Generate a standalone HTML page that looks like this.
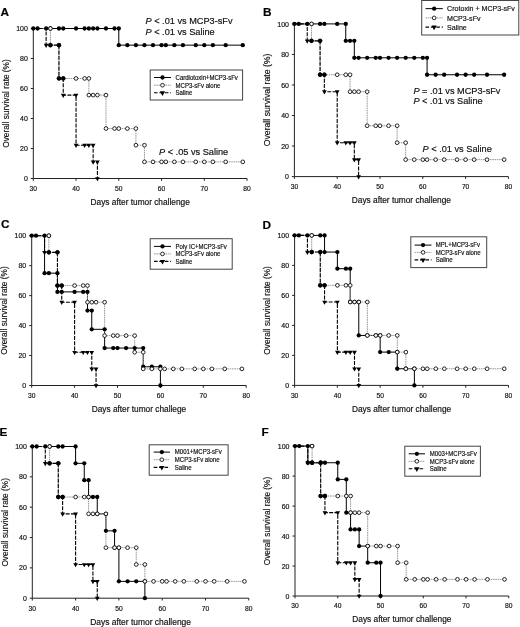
<!DOCTYPE html>
<html><head><meta charset="utf-8"><style>
html,body{margin:0;padding:0;background:#fff;}
svg{display:block;font-family:"Liberation Sans", sans-serif;}
#w{width:520px;height:627px;will-change:transform;}
text{stroke:#111;stroke-width:0.18px;}
</style></head><body><div id="w">
<svg width="520" height="627" viewBox="0 0 520 627">
<rect width="520" height="627" fill="#fff"/>
<path d="M33.3 28.5V178.5H247.05" fill="none" stroke="#222" stroke-width="1"/>
<path d="M30.8 178.5H33.3M30.8 148.5H33.3M30.8 118.5H33.3M30.8 88.5H33.3M30.8 58.5H33.3M30.8 28.5H33.3M33.3 178.5V180.8M76.05 178.5V180.8M118.8 178.5V180.8M161.55 178.5V180.8M204.3 178.5V180.8M247.05 178.5V180.8" stroke="#222" stroke-width="1"/>
<text transform="translate(27.8 181.1) scale(0.97 1)" text-anchor="end" font-size="7.2" fill="#111">0</text>
<text transform="translate(27.8 151.1) scale(0.97 1)" text-anchor="end" font-size="7.2" fill="#111">20</text>
<text transform="translate(27.8 121.1) scale(0.97 1)" text-anchor="end" font-size="7.2" fill="#111">40</text>
<text transform="translate(27.8 91.1) scale(0.97 1)" text-anchor="end" font-size="7.2" fill="#111">60</text>
<text transform="translate(27.8 61.1) scale(0.97 1)" text-anchor="end" font-size="7.2" fill="#111">80</text>
<text transform="translate(27.8 31.1) scale(0.97 1)" text-anchor="end" font-size="7.2" fill="#111">100</text>
<text transform="translate(33.3 190.8) scale(0.93 1)" text-anchor="middle" font-size="7.2" fill="#111">30</text>
<text transform="translate(76.05 190.8) scale(0.93 1)" text-anchor="middle" font-size="7.2" fill="#111">40</text>
<text transform="translate(118.8 190.8) scale(0.93 1)" text-anchor="middle" font-size="7.2" fill="#111">50</text>
<text transform="translate(161.55 190.8) scale(0.93 1)" text-anchor="middle" font-size="7.2" fill="#111">60</text>
<text transform="translate(204.3 190.8) scale(0.93 1)" text-anchor="middle" font-size="7.2" fill="#111">70</text>
<text transform="translate(247.05 190.8) scale(0.93 1)" text-anchor="middle" font-size="7.2" fill="#111">80</text>
<text x="140.18" y="204.9" text-anchor="middle" font-size="8.3" fill="#111">Days after tumor challenge</text>
<text transform="translate(8.7 103.5) rotate(-90)" text-anchor="middle" font-size="8.3" fill="#111">Overall survival rate (%)</text>
<text x="0.4" y="15.6" font-size="11.8" font-weight="bold" fill="#000">A</text>
<path d="M33.3 28.5L118.8 28.5L118.8 45.15L242.78 45.15" fill="none" stroke="#000" stroke-width="1.0"/>
<path d="M33.3 28.5L50.4 28.5L50.4 45.15L58.95 45.15L58.95 78.45L88.88 78.45L88.88 95.1L105.98 95.1L105.98 128.55L135.9 128.55L135.9 145.2L144.45 145.2L144.45 161.85L242.78 161.85" fill="none" stroke="#999" stroke-width="1" stroke-dasharray="1.6,0.7"/>
<path d="M33.3 28.5L46.12 28.5L46.12 45.15L58.95 45.15L58.95 78.45L63.23 78.45L63.23 95.1L76.05 95.1L76.05 145.2L93.15 145.2L93.15 161.85L97.42 161.85L97.42 178.5" fill="none" stroke="#000" stroke-width="1.1" stroke-dasharray="4.0,1.3"/>
<circle cx="33.3" cy="28.5" r="2.15" fill="#000"/>
<circle cx="37.57" cy="28.5" r="2.15" fill="#000"/>
<circle cx="46.12" cy="28.5" r="2.15" fill="#000"/>
<circle cx="50.4" cy="28.5" r="2.15" fill="#000"/>
<circle cx="58.95" cy="28.5" r="2.15" fill="#000"/>
<circle cx="63.23" cy="28.5" r="2.15" fill="#000"/>
<circle cx="76.05" cy="28.5" r="2.15" fill="#000"/>
<circle cx="84.6" cy="28.5" r="2.15" fill="#000"/>
<circle cx="88.88" cy="28.5" r="2.15" fill="#000"/>
<circle cx="93.15" cy="28.5" r="2.15" fill="#000"/>
<circle cx="97.42" cy="28.5" r="2.15" fill="#000"/>
<circle cx="105.98" cy="28.5" r="2.15" fill="#000"/>
<circle cx="114.53" cy="28.5" r="2.15" fill="#000"/>
<circle cx="118.8" cy="28.5" r="2.15" fill="#000"/>
<circle cx="118.8" cy="45.15" r="2.15" fill="#000"/>
<circle cx="127.35" cy="45.15" r="2.15" fill="#000"/>
<circle cx="135.9" cy="45.15" r="2.15" fill="#000"/>
<circle cx="144.45" cy="45.15" r="2.15" fill="#000"/>
<circle cx="153" cy="45.15" r="2.15" fill="#000"/>
<circle cx="161.55" cy="45.15" r="2.15" fill="#000"/>
<circle cx="165.82" cy="45.15" r="2.15" fill="#000"/>
<circle cx="174.38" cy="45.15" r="2.15" fill="#000"/>
<circle cx="182.93" cy="45.15" r="2.15" fill="#000"/>
<circle cx="195.75" cy="45.15" r="2.15" fill="#000"/>
<circle cx="204.3" cy="45.15" r="2.15" fill="#000"/>
<circle cx="212.85" cy="45.15" r="2.15" fill="#000"/>
<circle cx="225.68" cy="45.15" r="2.15" fill="#000"/>
<circle cx="242.78" cy="45.15" r="2.15" fill="#000"/>
<circle cx="50.4" cy="28.5" r="1.85" fill="#fff" stroke="#000" stroke-width="0.85"/>
<circle cx="50.4" cy="45.15" r="1.85" fill="#fff" stroke="#000" stroke-width="0.85"/>
<circle cx="58.95" cy="45.15" r="1.85" fill="#fff" stroke="#000" stroke-width="0.85"/>
<circle cx="58.95" cy="78.45" r="1.85" fill="#fff" stroke="#000" stroke-width="0.85"/>
<circle cx="63.23" cy="78.45" r="1.85" fill="#fff" stroke="#000" stroke-width="0.85"/>
<circle cx="76.05" cy="78.45" r="1.85" fill="#fff" stroke="#000" stroke-width="0.85"/>
<circle cx="84.6" cy="78.45" r="1.85" fill="#fff" stroke="#000" stroke-width="0.85"/>
<circle cx="88.88" cy="78.45" r="1.85" fill="#fff" stroke="#000" stroke-width="0.85"/>
<circle cx="88.88" cy="95.1" r="1.85" fill="#fff" stroke="#000" stroke-width="0.85"/>
<circle cx="93.15" cy="95.1" r="1.85" fill="#fff" stroke="#000" stroke-width="0.85"/>
<circle cx="97.42" cy="95.1" r="1.85" fill="#fff" stroke="#000" stroke-width="0.85"/>
<circle cx="105.98" cy="95.1" r="1.85" fill="#fff" stroke="#000" stroke-width="0.85"/>
<circle cx="105.98" cy="128.55" r="1.85" fill="#fff" stroke="#000" stroke-width="0.85"/>
<circle cx="114.53" cy="128.55" r="1.85" fill="#fff" stroke="#000" stroke-width="0.85"/>
<circle cx="118.8" cy="128.55" r="1.85" fill="#fff" stroke="#000" stroke-width="0.85"/>
<circle cx="127.35" cy="128.55" r="1.85" fill="#fff" stroke="#000" stroke-width="0.85"/>
<circle cx="135.9" cy="128.55" r="1.85" fill="#fff" stroke="#000" stroke-width="0.85"/>
<circle cx="135.9" cy="145.2" r="1.85" fill="#fff" stroke="#000" stroke-width="0.85"/>
<circle cx="144.45" cy="145.2" r="1.85" fill="#fff" stroke="#000" stroke-width="0.85"/>
<circle cx="144.45" cy="161.85" r="1.85" fill="#fff" stroke="#000" stroke-width="0.85"/>
<circle cx="153" cy="161.85" r="1.85" fill="#fff" stroke="#000" stroke-width="0.85"/>
<circle cx="161.55" cy="161.85" r="1.85" fill="#fff" stroke="#000" stroke-width="0.85"/>
<circle cx="165.82" cy="161.85" r="1.85" fill="#fff" stroke="#000" stroke-width="0.85"/>
<circle cx="174.38" cy="161.85" r="1.85" fill="#fff" stroke="#000" stroke-width="0.85"/>
<circle cx="182.93" cy="161.85" r="1.85" fill="#fff" stroke="#000" stroke-width="0.85"/>
<circle cx="195.75" cy="161.85" r="1.85" fill="#fff" stroke="#000" stroke-width="0.85"/>
<circle cx="204.3" cy="161.85" r="1.85" fill="#fff" stroke="#000" stroke-width="0.85"/>
<circle cx="212.85" cy="161.85" r="1.85" fill="#fff" stroke="#000" stroke-width="0.85"/>
<circle cx="225.68" cy="161.85" r="1.85" fill="#fff" stroke="#000" stroke-width="0.85"/>
<circle cx="242.78" cy="161.85" r="1.85" fill="#fff" stroke="#000" stroke-width="0.85"/>
<path d="M43.77 43.8L48.48 43.8L46.12 48Z" fill="#000"/>
<circle cx="50.4" cy="45.15" r="2.15" fill="#000"/>
<circle cx="58.95" cy="45.15" r="2.15" fill="#000"/>
<circle cx="58.95" cy="78.45" r="2.15" fill="#000"/>
<circle cx="63.23" cy="78.45" r="2.15" fill="#000"/>
<path d="M60.88 93.75L65.58 93.75L63.23 97.95Z" fill="#000"/>
<path d="M73.7 93.75L78.4 93.75L76.05 97.95Z" fill="#000"/>
<path d="M73.7 143.85L78.4 143.85L76.05 148.05Z" fill="#000"/>
<path d="M82.25 143.85L86.95 143.85L84.6 148.05Z" fill="#000"/>
<path d="M86.53 143.85L91.22 143.85L88.88 148.05Z" fill="#000"/>
<path d="M90.8 143.85L95.5 143.85L93.15 148.05Z" fill="#000"/>
<path d="M90.8 160.5L95.5 160.5L93.15 164.7Z" fill="#000"/>
<path d="M95.08 160.5L99.77 160.5L97.42 164.7Z" fill="#000"/>
<path d="M95.08 177.15L99.77 177.15L97.42 181.35Z" fill="#000"/>
<rect x="150.2" y="70" width="92.4" height="30" fill="#fff" stroke="#444" stroke-width="1"/>
<path d="M154 77.5H171" stroke="#000" stroke-width="1"/>
<circle cx="162.5" cy="77.5" r="2.15" fill="#000"/>
<path d="M154 85.2H171" stroke="#999" stroke-width="1" stroke-dasharray="1.6,0.7"/>
<circle cx="162.5" cy="85.2" r="1.85" fill="#fff" stroke="#000" stroke-width="0.85"/>
<path d="M154 92.7H171" stroke="#000" stroke-width="1.1" stroke-dasharray="3.6,1.8"/>
<path d="M159.87 91.19L165.13 91.19L162.5 95.89Z" fill="#000"/>
<text transform="translate(175.6 79.8) scale(0.94 1)" font-size="6.4" fill="#111">Cardiotoxin+MCP3-sFv</text>
<text transform="translate(175.6 87.5) scale(0.94 1)" font-size="6.4" fill="#111">MCP3-sFv alone</text>
<text transform="translate(175.6 95) scale(0.94 1)" font-size="6.4" fill="#111">Saline</text>
<text x="145.5" y="24.3" font-size="9.2" fill="#111"><tspan font-style="italic">P</tspan> < .01 vs MCP3-sFv</text>
<text x="145.5" y="35.3" font-size="9.2" fill="#111"><tspan font-style="italic">P</tspan> < .01 vs Saline</text>
<text x="159" y="154.5" font-size="9.2" fill="#111"><tspan font-style="italic">P</tspan> < .05 vs Saline</text>
<path d="M294.4 23.9V176.6H508.4" fill="none" stroke="#222" stroke-width="1"/>
<path d="M291.9 176.6H294.4M291.9 146.06H294.4M291.9 115.52H294.4M291.9 84.98H294.4M291.9 54.44H294.4M291.9 23.9H294.4M294.4 176.6V178.9M337.2 176.6V178.9M380 176.6V178.9M422.8 176.6V178.9M465.6 176.6V178.9M508.4 176.6V178.9" stroke="#222" stroke-width="1"/>
<text transform="translate(288.9 179.2) scale(0.97 1)" text-anchor="end" font-size="7.2" fill="#111">0</text>
<text transform="translate(288.9 148.66) scale(0.97 1)" text-anchor="end" font-size="7.2" fill="#111">20</text>
<text transform="translate(288.9 118.12) scale(0.97 1)" text-anchor="end" font-size="7.2" fill="#111">40</text>
<text transform="translate(288.9 87.58) scale(0.97 1)" text-anchor="end" font-size="7.2" fill="#111">60</text>
<text transform="translate(288.9 57.04) scale(0.97 1)" text-anchor="end" font-size="7.2" fill="#111">80</text>
<text transform="translate(288.9 26.5) scale(0.97 1)" text-anchor="end" font-size="7.2" fill="#111">100</text>
<text transform="translate(294.4 188.9) scale(0.93 1)" text-anchor="middle" font-size="7.2" fill="#111">30</text>
<text transform="translate(337.2 188.9) scale(0.93 1)" text-anchor="middle" font-size="7.2" fill="#111">40</text>
<text transform="translate(380 188.9) scale(0.93 1)" text-anchor="middle" font-size="7.2" fill="#111">50</text>
<text transform="translate(422.8 188.9) scale(0.93 1)" text-anchor="middle" font-size="7.2" fill="#111">60</text>
<text transform="translate(465.6 188.9) scale(0.93 1)" text-anchor="middle" font-size="7.2" fill="#111">70</text>
<text transform="translate(508.4 188.9) scale(0.93 1)" text-anchor="middle" font-size="7.2" fill="#111">80</text>
<text x="401.4" y="203" text-anchor="middle" font-size="8.3" fill="#111">Days after tumor challenge</text>
<text transform="translate(270.4 99.95) rotate(-90)" text-anchor="middle" font-size="8.7" fill="#111">Overall survival rate (%)</text>
<text x="263" y="15.9" font-size="11.8" font-weight="bold" fill="#000">B</text>
<path d="M294.4 23.9L345.76 23.9L345.76 40.85L354.32 40.85L354.32 57.8L427.08 57.8L427.08 74.75L504.12 74.75" fill="none" stroke="#000" stroke-width="1.0"/>
<path d="M294.4 23.9L311.52 23.9L311.52 40.85L320.08 40.85L320.08 74.75L350.04 74.75L350.04 91.7L367.16 91.7L367.16 125.75L397.12 125.75L397.12 142.7L405.68 142.7L405.68 159.65L504.12 159.65" fill="none" stroke="#999" stroke-width="1" stroke-dasharray="1.6,0.7"/>
<path d="M294.4 23.9L307.24 23.9L307.24 40.85L320.08 40.85L320.08 74.75L324.36 74.75L324.36 91.7L337.2 91.7L337.2 142.7L354.32 142.7L354.32 159.65L358.6 159.65L358.6 176.6" fill="none" stroke="#000" stroke-width="1.1" stroke-dasharray="4.0,1.3"/>
<circle cx="294.4" cy="23.9" r="2.15" fill="#000"/>
<circle cx="298.68" cy="23.9" r="2.15" fill="#000"/>
<circle cx="307.24" cy="23.9" r="2.15" fill="#000"/>
<circle cx="311.52" cy="23.9" r="2.15" fill="#000"/>
<circle cx="320.08" cy="23.9" r="2.15" fill="#000"/>
<circle cx="324.36" cy="23.9" r="2.15" fill="#000"/>
<circle cx="337.2" cy="23.9" r="2.15" fill="#000"/>
<circle cx="345.76" cy="23.9" r="2.15" fill="#000"/>
<circle cx="345.76" cy="40.85" r="2.15" fill="#000"/>
<circle cx="350.04" cy="40.85" r="2.15" fill="#000"/>
<circle cx="354.32" cy="40.85" r="2.15" fill="#000"/>
<circle cx="354.32" cy="57.8" r="2.15" fill="#000"/>
<circle cx="358.6" cy="57.8" r="2.15" fill="#000"/>
<circle cx="367.16" cy="57.8" r="2.15" fill="#000"/>
<circle cx="375.72" cy="57.8" r="2.15" fill="#000"/>
<circle cx="380" cy="57.8" r="2.15" fill="#000"/>
<circle cx="388.56" cy="57.8" r="2.15" fill="#000"/>
<circle cx="397.12" cy="57.8" r="2.15" fill="#000"/>
<circle cx="405.68" cy="57.8" r="2.15" fill="#000"/>
<circle cx="414.24" cy="57.8" r="2.15" fill="#000"/>
<circle cx="422.8" cy="57.8" r="2.15" fill="#000"/>
<circle cx="427.08" cy="57.8" r="2.15" fill="#000"/>
<circle cx="427.08" cy="74.75" r="2.15" fill="#000"/>
<circle cx="435.64" cy="74.75" r="2.15" fill="#000"/>
<circle cx="444.2" cy="74.75" r="2.15" fill="#000"/>
<circle cx="457.04" cy="74.75" r="2.15" fill="#000"/>
<circle cx="465.6" cy="74.75" r="2.15" fill="#000"/>
<circle cx="474.16" cy="74.75" r="2.15" fill="#000"/>
<circle cx="487" cy="74.75" r="2.15" fill="#000"/>
<circle cx="504.12" cy="74.75" r="2.15" fill="#000"/>
<circle cx="311.52" cy="23.9" r="1.85" fill="#fff" stroke="#000" stroke-width="0.85"/>
<circle cx="311.52" cy="40.85" r="1.85" fill="#fff" stroke="#000" stroke-width="0.85"/>
<circle cx="320.08" cy="40.85" r="1.85" fill="#fff" stroke="#000" stroke-width="0.85"/>
<circle cx="320.08" cy="74.75" r="1.85" fill="#fff" stroke="#000" stroke-width="0.85"/>
<circle cx="324.36" cy="74.75" r="1.85" fill="#fff" stroke="#000" stroke-width="0.85"/>
<circle cx="337.2" cy="74.75" r="1.85" fill="#fff" stroke="#000" stroke-width="0.85"/>
<circle cx="345.76" cy="74.75" r="1.85" fill="#fff" stroke="#000" stroke-width="0.85"/>
<circle cx="350.04" cy="74.75" r="1.85" fill="#fff" stroke="#000" stroke-width="0.85"/>
<circle cx="350.04" cy="91.7" r="1.85" fill="#fff" stroke="#000" stroke-width="0.85"/>
<circle cx="354.32" cy="91.7" r="1.85" fill="#fff" stroke="#000" stroke-width="0.85"/>
<circle cx="358.6" cy="91.7" r="1.85" fill="#fff" stroke="#000" stroke-width="0.85"/>
<circle cx="367.16" cy="91.7" r="1.85" fill="#fff" stroke="#000" stroke-width="0.85"/>
<circle cx="367.16" cy="125.75" r="1.85" fill="#fff" stroke="#000" stroke-width="0.85"/>
<circle cx="375.72" cy="125.75" r="1.85" fill="#fff" stroke="#000" stroke-width="0.85"/>
<circle cx="380" cy="125.75" r="1.85" fill="#fff" stroke="#000" stroke-width="0.85"/>
<circle cx="388.56" cy="125.75" r="1.85" fill="#fff" stroke="#000" stroke-width="0.85"/>
<circle cx="397.12" cy="125.75" r="1.85" fill="#fff" stroke="#000" stroke-width="0.85"/>
<circle cx="397.12" cy="142.7" r="1.85" fill="#fff" stroke="#000" stroke-width="0.85"/>
<circle cx="405.68" cy="142.7" r="1.85" fill="#fff" stroke="#000" stroke-width="0.85"/>
<circle cx="405.68" cy="159.65" r="1.85" fill="#fff" stroke="#000" stroke-width="0.85"/>
<circle cx="414.24" cy="159.65" r="1.85" fill="#fff" stroke="#000" stroke-width="0.85"/>
<circle cx="422.8" cy="159.65" r="1.85" fill="#fff" stroke="#000" stroke-width="0.85"/>
<circle cx="427.08" cy="159.65" r="1.85" fill="#fff" stroke="#000" stroke-width="0.85"/>
<circle cx="435.64" cy="159.65" r="1.85" fill="#fff" stroke="#000" stroke-width="0.85"/>
<circle cx="444.2" cy="159.65" r="1.85" fill="#fff" stroke="#000" stroke-width="0.85"/>
<circle cx="457.04" cy="159.65" r="1.85" fill="#fff" stroke="#000" stroke-width="0.85"/>
<circle cx="465.6" cy="159.65" r="1.85" fill="#fff" stroke="#000" stroke-width="0.85"/>
<circle cx="474.16" cy="159.65" r="1.85" fill="#fff" stroke="#000" stroke-width="0.85"/>
<circle cx="487" cy="159.65" r="1.85" fill="#fff" stroke="#000" stroke-width="0.85"/>
<circle cx="504.12" cy="159.65" r="1.85" fill="#fff" stroke="#000" stroke-width="0.85"/>
<path d="M304.89 39.5L309.59 39.5L307.24 43.7Z" fill="#000"/>
<circle cx="311.52" cy="40.85" r="2.15" fill="#000"/>
<circle cx="320.08" cy="40.85" r="2.15" fill="#000"/>
<circle cx="320.08" cy="74.75" r="2.15" fill="#000"/>
<circle cx="324.36" cy="74.75" r="2.15" fill="#000"/>
<path d="M322.01 90.35L326.71 90.35L324.36 94.55Z" fill="#000"/>
<path d="M334.85 90.35L339.55 90.35L337.2 94.55Z" fill="#000"/>
<path d="M334.85 141.35L339.55 141.35L337.2 145.55Z" fill="#000"/>
<path d="M343.41 141.35L348.11 141.35L345.76 145.55Z" fill="#000"/>
<path d="M347.69 141.35L352.39 141.35L350.04 145.55Z" fill="#000"/>
<path d="M351.97 141.35L356.67 141.35L354.32 145.55Z" fill="#000"/>
<path d="M351.97 158.3L356.67 158.3L354.32 162.5Z" fill="#000"/>
<path d="M356.25 158.3L360.95 158.3L358.6 162.5Z" fill="#000"/>
<path d="M356.25 175.25L360.95 175.25L358.6 179.45Z" fill="#000"/>
<rect x="421.7" y="0.5" width="97.1" height="34.5" fill="#fff" stroke="#444" stroke-width="1"/>
<path d="M425.5 8.65H442.8" stroke="#000" stroke-width="1"/>
<circle cx="434.15" cy="8.65" r="2.15" fill="#000"/>
<path d="M425.5 17.9H442.8" stroke="#999" stroke-width="1" stroke-dasharray="1.6,0.7"/>
<circle cx="434.15" cy="17.9" r="1.85" fill="#fff" stroke="#000" stroke-width="0.85"/>
<path d="M425.5 27.1H442.8" stroke="#000" stroke-width="1.1" stroke-dasharray="3.6,1.8"/>
<path d="M431.52 25.59L436.78 25.59L434.15 30.29Z" fill="#000"/>
<text transform="translate(447.1 11.25) scale(0.945 1)" font-size="7.5" fill="#111">Crotoxin + MCP3-sFv</text>
<text transform="translate(447.1 20.5) scale(0.945 1)" font-size="7.5" fill="#111">MCP3-sFv</text>
<text transform="translate(447.1 29.7) scale(0.945 1)" font-size="7.5" fill="#111">Saline</text>
<text x="413.4" y="93.5" font-size="9.2" fill="#111"><tspan font-style="italic">P</tspan> = .01 vs MCP3-sFv</text>
<text x="413.4" y="103.8" font-size="9.2" fill="#111"><tspan font-style="italic">P</tspan> < .01 vs Saline</text>
<text x="422.6" y="151.5" font-size="9.2" fill="#111"><tspan font-style="italic">P</tspan> < .01 vs Saline</text>
<path d="M31.7 235.7V385.5H246.2" fill="none" stroke="#222" stroke-width="1"/>
<path d="M29.2 385.5H31.7M29.2 355.54H31.7M29.2 325.58H31.7M29.2 295.62H31.7M29.2 265.66H31.7M29.2 235.7H31.7M31.7 385.5V387.8M74.6 385.5V387.8M117.5 385.5V387.8M160.4 385.5V387.8M203.3 385.5V387.8M246.2 385.5V387.8" stroke="#222" stroke-width="1"/>
<text transform="translate(26.2 388.1) scale(0.97 1)" text-anchor="end" font-size="7.2" fill="#111">0</text>
<text transform="translate(26.2 358.14) scale(0.97 1)" text-anchor="end" font-size="7.2" fill="#111">20</text>
<text transform="translate(26.2 328.18) scale(0.97 1)" text-anchor="end" font-size="7.2" fill="#111">40</text>
<text transform="translate(26.2 298.22) scale(0.97 1)" text-anchor="end" font-size="7.2" fill="#111">60</text>
<text transform="translate(26.2 268.26) scale(0.97 1)" text-anchor="end" font-size="7.2" fill="#111">80</text>
<text transform="translate(26.2 238.3) scale(0.97 1)" text-anchor="end" font-size="7.2" fill="#111">100</text>
<text transform="translate(31.7 397.8) scale(0.93 1)" text-anchor="middle" font-size="7.2" fill="#111">30</text>
<text transform="translate(74.6 397.8) scale(0.93 1)" text-anchor="middle" font-size="7.2" fill="#111">40</text>
<text transform="translate(117.5 397.8) scale(0.93 1)" text-anchor="middle" font-size="7.2" fill="#111">50</text>
<text transform="translate(160.4 397.8) scale(0.93 1)" text-anchor="middle" font-size="7.2" fill="#111">60</text>
<text transform="translate(203.3 397.8) scale(0.93 1)" text-anchor="middle" font-size="7.2" fill="#111">70</text>
<text transform="translate(246.2 397.8) scale(0.93 1)" text-anchor="middle" font-size="7.2" fill="#111">80</text>
<text x="138.95" y="411.9" text-anchor="middle" font-size="8.3" fill="#111">Days after tumor challege</text>
<text transform="translate(7.1 310.6) rotate(-90)" text-anchor="middle" font-size="8.3" fill="#111">Overall survival rate (%)</text>
<text x="1" y="228.3" font-size="11.8" font-weight="bold" fill="#000">C</text>
<path d="M31.7 235.7L44.57 235.7L44.57 273.15L57.44 273.15L57.44 291.88L87.47 291.88L87.47 310.6L91.76 310.6L91.76 329.32L104.63 329.32L104.63 348.05L143.24 348.05L143.24 366.77L160.4 366.77L160.4 385.5" fill="none" stroke="#000" stroke-width="1.0"/>
<path d="M31.7 235.7L48.86 235.7L48.86 252.33L57.44 252.33L57.44 285.58L87.47 285.58L87.47 302.21L104.63 302.21L104.63 335.62L134.66 335.62L134.66 352.24L143.24 352.24L143.24 368.87L241.91 368.87" fill="none" stroke="#999" stroke-width="1" stroke-dasharray="1.6,0.7"/>
<path d="M31.7 235.7L44.57 235.7L44.57 252.33L57.44 252.33L57.44 285.58L61.73 285.58L61.73 302.21L74.6 302.21L74.6 352.24L91.76 352.24L91.76 368.87L96.05 368.87L96.05 385.5" fill="none" stroke="#000" stroke-width="1.1" stroke-dasharray="4.0,1.3"/>
<circle cx="31.7" cy="235.7" r="2.15" fill="#000"/>
<circle cx="35.99" cy="235.7" r="2.15" fill="#000"/>
<circle cx="44.57" cy="235.7" r="2.15" fill="#000"/>
<circle cx="48.86" cy="235.7" r="2.15" fill="#000"/>
<circle cx="44.57" cy="273.15" r="2.15" fill="#000"/>
<circle cx="48.86" cy="273.15" r="2.15" fill="#000"/>
<circle cx="57.44" cy="273.15" r="2.15" fill="#000"/>
<circle cx="57.44" cy="291.88" r="2.15" fill="#000"/>
<circle cx="61.73" cy="291.88" r="2.15" fill="#000"/>
<circle cx="74.6" cy="291.88" r="2.15" fill="#000"/>
<circle cx="83.18" cy="291.88" r="2.15" fill="#000"/>
<circle cx="87.47" cy="291.88" r="2.15" fill="#000"/>
<circle cx="87.47" cy="310.6" r="2.15" fill="#000"/>
<circle cx="91.76" cy="310.6" r="2.15" fill="#000"/>
<circle cx="91.76" cy="329.32" r="2.15" fill="#000"/>
<circle cx="104.63" cy="329.32" r="2.15" fill="#000"/>
<circle cx="104.63" cy="348.05" r="2.15" fill="#000"/>
<circle cx="113.21" cy="348.05" r="2.15" fill="#000"/>
<circle cx="117.5" cy="348.05" r="2.15" fill="#000"/>
<circle cx="126.08" cy="348.05" r="2.15" fill="#000"/>
<circle cx="134.66" cy="348.05" r="2.15" fill="#000"/>
<circle cx="143.24" cy="348.05" r="2.15" fill="#000"/>
<circle cx="143.24" cy="366.77" r="2.15" fill="#000"/>
<circle cx="151.82" cy="366.77" r="2.15" fill="#000"/>
<circle cx="160.4" cy="366.77" r="2.15" fill="#000"/>
<circle cx="160.4" cy="385.5" r="2.15" fill="#000"/>
<circle cx="48.86" cy="235.7" r="1.85" fill="#fff" stroke="#000" stroke-width="0.85"/>
<circle cx="48.86" cy="252.33" r="1.85" fill="#fff" stroke="#000" stroke-width="0.85"/>
<circle cx="57.44" cy="252.33" r="1.85" fill="#fff" stroke="#000" stroke-width="0.85"/>
<circle cx="57.44" cy="285.58" r="1.85" fill="#fff" stroke="#000" stroke-width="0.85"/>
<circle cx="61.73" cy="285.58" r="1.85" fill="#fff" stroke="#000" stroke-width="0.85"/>
<circle cx="74.6" cy="285.58" r="1.85" fill="#fff" stroke="#000" stroke-width="0.85"/>
<circle cx="83.18" cy="285.58" r="1.85" fill="#fff" stroke="#000" stroke-width="0.85"/>
<circle cx="87.47" cy="285.58" r="1.85" fill="#fff" stroke="#000" stroke-width="0.85"/>
<circle cx="87.47" cy="302.21" r="1.85" fill="#fff" stroke="#000" stroke-width="0.85"/>
<circle cx="91.76" cy="302.21" r="1.85" fill="#fff" stroke="#000" stroke-width="0.85"/>
<circle cx="96.05" cy="302.21" r="1.85" fill="#fff" stroke="#000" stroke-width="0.85"/>
<circle cx="104.63" cy="302.21" r="1.85" fill="#fff" stroke="#000" stroke-width="0.85"/>
<circle cx="104.63" cy="335.62" r="1.85" fill="#fff" stroke="#000" stroke-width="0.85"/>
<circle cx="113.21" cy="335.62" r="1.85" fill="#fff" stroke="#000" stroke-width="0.85"/>
<circle cx="117.5" cy="335.62" r="1.85" fill="#fff" stroke="#000" stroke-width="0.85"/>
<circle cx="126.08" cy="335.62" r="1.85" fill="#fff" stroke="#000" stroke-width="0.85"/>
<circle cx="134.66" cy="335.62" r="1.85" fill="#fff" stroke="#000" stroke-width="0.85"/>
<circle cx="134.66" cy="352.24" r="1.85" fill="#fff" stroke="#000" stroke-width="0.85"/>
<circle cx="143.24" cy="352.24" r="1.85" fill="#fff" stroke="#000" stroke-width="0.85"/>
<circle cx="143.24" cy="368.87" r="1.85" fill="#fff" stroke="#000" stroke-width="0.85"/>
<circle cx="151.82" cy="368.87" r="1.85" fill="#fff" stroke="#000" stroke-width="0.85"/>
<circle cx="160.4" cy="368.87" r="1.85" fill="#fff" stroke="#000" stroke-width="0.85"/>
<circle cx="164.69" cy="368.87" r="1.85" fill="#fff" stroke="#000" stroke-width="0.85"/>
<circle cx="173.27" cy="368.87" r="1.85" fill="#fff" stroke="#000" stroke-width="0.85"/>
<circle cx="181.85" cy="368.87" r="1.85" fill="#fff" stroke="#000" stroke-width="0.85"/>
<circle cx="194.72" cy="368.87" r="1.85" fill="#fff" stroke="#000" stroke-width="0.85"/>
<circle cx="203.3" cy="368.87" r="1.85" fill="#fff" stroke="#000" stroke-width="0.85"/>
<circle cx="211.88" cy="368.87" r="1.85" fill="#fff" stroke="#000" stroke-width="0.85"/>
<circle cx="224.75" cy="368.87" r="1.85" fill="#fff" stroke="#000" stroke-width="0.85"/>
<circle cx="241.91" cy="368.87" r="1.85" fill="#fff" stroke="#000" stroke-width="0.85"/>
<path d="M42.22 250.98L46.92 250.98L44.57 255.18Z" fill="#000"/>
<circle cx="48.86" cy="252.33" r="2.15" fill="#000"/>
<circle cx="57.44" cy="252.33" r="2.15" fill="#000"/>
<circle cx="57.44" cy="285.58" r="2.15" fill="#000"/>
<circle cx="61.73" cy="285.58" r="2.15" fill="#000"/>
<path d="M59.38 300.86L64.08 300.86L61.73 305.06Z" fill="#000"/>
<path d="M72.25 300.86L76.95 300.86L74.6 305.06Z" fill="#000"/>
<path d="M72.25 350.89L76.95 350.89L74.6 355.09Z" fill="#000"/>
<path d="M80.83 350.89L85.53 350.89L83.18 355.09Z" fill="#000"/>
<path d="M85.12 350.89L89.82 350.89L87.47 355.09Z" fill="#000"/>
<path d="M89.41 350.89L94.11 350.89L91.76 355.09Z" fill="#000"/>
<path d="M89.41 367.52L94.11 367.52L91.76 371.72Z" fill="#000"/>
<path d="M93.7 367.52L98.4 367.52L96.05 371.72Z" fill="#000"/>
<path d="M93.7 384.15L98.4 384.15L96.05 388.35Z" fill="#000"/>
<rect x="150.2" y="238.7" width="82" height="30.5" fill="#fff" stroke="#444" stroke-width="1"/>
<path d="M154 246.4H171" stroke="#000" stroke-width="1"/>
<circle cx="162.5" cy="246.4" r="2.15" fill="#000"/>
<path d="M154 253.9H171" stroke="#999" stroke-width="1" stroke-dasharray="1.6,0.7"/>
<circle cx="162.5" cy="253.9" r="1.85" fill="#fff" stroke="#000" stroke-width="0.85"/>
<path d="M154 261.4H171" stroke="#000" stroke-width="1.1" stroke-dasharray="3.6,1.8"/>
<path d="M159.87 259.89L165.13 259.89L162.5 264.59Z" fill="#000"/>
<text transform="translate(175.6 248.7) scale(0.94 1)" font-size="6.4" fill="#111">Poly IC+MCP3-sFv</text>
<text transform="translate(175.6 256.2) scale(0.94 1)" font-size="6.4" fill="#111">MCP3-sFv alone</text>
<text transform="translate(175.6 263.7) scale(0.94 1)" font-size="6.4" fill="#111">Saline</text>
<path d="M294.6 235.4V385.4H508.5" fill="none" stroke="#222" stroke-width="1"/>
<path d="M292.1 385.4H294.6M292.1 355.4H294.6M292.1 325.4H294.6M292.1 295.4H294.6M292.1 265.4H294.6M292.1 235.4H294.6M294.6 385.4V387.7M337.38 385.4V387.7M380.16 385.4V387.7M422.94 385.4V387.7M465.72 385.4V387.7M508.5 385.4V387.7" stroke="#222" stroke-width="1"/>
<text transform="translate(289.1 388) scale(0.97 1)" text-anchor="end" font-size="7.2" fill="#111">0</text>
<text transform="translate(289.1 358) scale(0.97 1)" text-anchor="end" font-size="7.2" fill="#111">20</text>
<text transform="translate(289.1 328) scale(0.97 1)" text-anchor="end" font-size="7.2" fill="#111">40</text>
<text transform="translate(289.1 298) scale(0.97 1)" text-anchor="end" font-size="7.2" fill="#111">60</text>
<text transform="translate(289.1 268) scale(0.97 1)" text-anchor="end" font-size="7.2" fill="#111">80</text>
<text transform="translate(289.1 238) scale(0.97 1)" text-anchor="end" font-size="7.2" fill="#111">100</text>
<text transform="translate(294.6 397.7) scale(0.93 1)" text-anchor="middle" font-size="7.2" fill="#111">30</text>
<text transform="translate(337.38 397.7) scale(0.93 1)" text-anchor="middle" font-size="7.2" fill="#111">40</text>
<text transform="translate(380.16 397.7) scale(0.93 1)" text-anchor="middle" font-size="7.2" fill="#111">50</text>
<text transform="translate(422.94 397.7) scale(0.93 1)" text-anchor="middle" font-size="7.2" fill="#111">60</text>
<text transform="translate(465.72 397.7) scale(0.93 1)" text-anchor="middle" font-size="7.2" fill="#111">70</text>
<text transform="translate(508.5 397.7) scale(0.93 1)" text-anchor="middle" font-size="7.2" fill="#111">80</text>
<text x="401.55" y="411.8" text-anchor="middle" font-size="8.3" fill="#111">Days after tumor challenge</text>
<text transform="translate(270 310.4) rotate(-90)" text-anchor="middle" font-size="8.3" fill="#111">Overall survival rate (%)</text>
<text x="262.6" y="228.5" font-size="11.8" font-weight="bold" fill="#000">D</text>
<path d="M294.6 235.4L324.55 235.4L324.55 252.05L337.38 252.05L337.38 268.7L350.21 268.7L350.21 302L358.77 302L358.77 335.45L380.16 335.45L380.16 352.1L397.27 352.1L397.27 368.75L414.38 368.75L414.38 385.4" fill="none" stroke="#000" stroke-width="1.0"/>
<path d="M294.6 235.4L311.71 235.4L311.71 252.05L320.27 252.05L320.27 285.35L350.21 285.35L350.21 302L367.33 302L367.33 335.45L397.27 335.45L397.27 352.1L405.83 352.1L405.83 368.75L504.22 368.75" fill="none" stroke="#999" stroke-width="1" stroke-dasharray="1.6,0.7"/>
<path d="M294.6 235.4L307.43 235.4L307.43 252.05L320.27 252.05L320.27 285.35L324.55 285.35L324.55 302L337.38 302L337.38 352.1L354.49 352.1L354.49 368.75L358.77 368.75L358.77 385.4" fill="none" stroke="#000" stroke-width="1.1" stroke-dasharray="4.0,1.3"/>
<circle cx="294.6" cy="235.4" r="2.15" fill="#000"/>
<circle cx="298.88" cy="235.4" r="2.15" fill="#000"/>
<circle cx="307.43" cy="235.4" r="2.15" fill="#000"/>
<circle cx="311.71" cy="235.4" r="2.15" fill="#000"/>
<circle cx="320.27" cy="235.4" r="2.15" fill="#000"/>
<circle cx="324.55" cy="235.4" r="2.15" fill="#000"/>
<circle cx="324.55" cy="252.05" r="2.15" fill="#000"/>
<circle cx="337.38" cy="252.05" r="2.15" fill="#000"/>
<circle cx="337.38" cy="268.7" r="2.15" fill="#000"/>
<circle cx="345.94" cy="268.7" r="2.15" fill="#000"/>
<circle cx="350.21" cy="268.7" r="2.15" fill="#000"/>
<circle cx="350.21" cy="302" r="2.15" fill="#000"/>
<circle cx="354.49" cy="302" r="2.15" fill="#000"/>
<circle cx="358.77" cy="302" r="2.15" fill="#000"/>
<circle cx="358.77" cy="335.45" r="2.15" fill="#000"/>
<circle cx="367.33" cy="335.45" r="2.15" fill="#000"/>
<circle cx="375.88" cy="335.45" r="2.15" fill="#000"/>
<circle cx="380.16" cy="335.45" r="2.15" fill="#000"/>
<circle cx="380.16" cy="352.1" r="2.15" fill="#000"/>
<circle cx="388.72" cy="352.1" r="2.15" fill="#000"/>
<circle cx="397.27" cy="352.1" r="2.15" fill="#000"/>
<circle cx="397.27" cy="368.75" r="2.15" fill="#000"/>
<circle cx="405.83" cy="368.75" r="2.15" fill="#000"/>
<circle cx="414.38" cy="368.75" r="2.15" fill="#000"/>
<circle cx="414.38" cy="385.4" r="2.15" fill="#000"/>
<circle cx="311.71" cy="235.4" r="1.85" fill="#fff" stroke="#000" stroke-width="0.85"/>
<circle cx="311.71" cy="252.05" r="1.85" fill="#fff" stroke="#000" stroke-width="0.85"/>
<circle cx="320.27" cy="252.05" r="1.85" fill="#fff" stroke="#000" stroke-width="0.85"/>
<circle cx="320.27" cy="285.35" r="1.85" fill="#fff" stroke="#000" stroke-width="0.85"/>
<circle cx="324.55" cy="285.35" r="1.85" fill="#fff" stroke="#000" stroke-width="0.85"/>
<circle cx="337.38" cy="285.35" r="1.85" fill="#fff" stroke="#000" stroke-width="0.85"/>
<circle cx="345.94" cy="285.35" r="1.85" fill="#fff" stroke="#000" stroke-width="0.85"/>
<circle cx="350.21" cy="285.35" r="1.85" fill="#fff" stroke="#000" stroke-width="0.85"/>
<circle cx="350.21" cy="302" r="1.85" fill="#fff" stroke="#000" stroke-width="0.85"/>
<circle cx="354.49" cy="302" r="1.85" fill="#fff" stroke="#000" stroke-width="0.85"/>
<circle cx="358.77" cy="302" r="1.85" fill="#fff" stroke="#000" stroke-width="0.85"/>
<circle cx="367.33" cy="302" r="1.85" fill="#fff" stroke="#000" stroke-width="0.85"/>
<circle cx="367.33" cy="335.45" r="1.85" fill="#fff" stroke="#000" stroke-width="0.85"/>
<circle cx="375.88" cy="335.45" r="1.85" fill="#fff" stroke="#000" stroke-width="0.85"/>
<circle cx="380.16" cy="335.45" r="1.85" fill="#fff" stroke="#000" stroke-width="0.85"/>
<circle cx="388.72" cy="335.45" r="1.85" fill="#fff" stroke="#000" stroke-width="0.85"/>
<circle cx="397.27" cy="335.45" r="1.85" fill="#fff" stroke="#000" stroke-width="0.85"/>
<circle cx="397.27" cy="352.1" r="1.85" fill="#fff" stroke="#000" stroke-width="0.85"/>
<circle cx="405.83" cy="352.1" r="1.85" fill="#fff" stroke="#000" stroke-width="0.85"/>
<circle cx="405.83" cy="368.75" r="1.85" fill="#fff" stroke="#000" stroke-width="0.85"/>
<circle cx="414.38" cy="368.75" r="1.85" fill="#fff" stroke="#000" stroke-width="0.85"/>
<circle cx="422.94" cy="368.75" r="1.85" fill="#fff" stroke="#000" stroke-width="0.85"/>
<circle cx="427.22" cy="368.75" r="1.85" fill="#fff" stroke="#000" stroke-width="0.85"/>
<circle cx="435.77" cy="368.75" r="1.85" fill="#fff" stroke="#000" stroke-width="0.85"/>
<circle cx="444.33" cy="368.75" r="1.85" fill="#fff" stroke="#000" stroke-width="0.85"/>
<circle cx="457.16" cy="368.75" r="1.85" fill="#fff" stroke="#000" stroke-width="0.85"/>
<circle cx="465.72" cy="368.75" r="1.85" fill="#fff" stroke="#000" stroke-width="0.85"/>
<circle cx="474.28" cy="368.75" r="1.85" fill="#fff" stroke="#000" stroke-width="0.85"/>
<circle cx="487.11" cy="368.75" r="1.85" fill="#fff" stroke="#000" stroke-width="0.85"/>
<circle cx="504.22" cy="368.75" r="1.85" fill="#fff" stroke="#000" stroke-width="0.85"/>
<path d="M305.08 250.7L309.78 250.7L307.43 254.9Z" fill="#000"/>
<circle cx="311.71" cy="252.05" r="2.15" fill="#000"/>
<circle cx="320.27" cy="252.05" r="2.15" fill="#000"/>
<circle cx="320.27" cy="285.35" r="2.15" fill="#000"/>
<circle cx="324.55" cy="285.35" r="2.15" fill="#000"/>
<path d="M322.2 300.65L326.9 300.65L324.55 304.85Z" fill="#000"/>
<path d="M335.03 300.65L339.73 300.65L337.38 304.85Z" fill="#000"/>
<path d="M335.03 350.75L339.73 350.75L337.38 354.95Z" fill="#000"/>
<path d="M343.59 350.75L348.29 350.75L345.94 354.95Z" fill="#000"/>
<path d="M347.86 350.75L352.56 350.75L350.21 354.95Z" fill="#000"/>
<path d="M352.14 350.75L356.84 350.75L354.49 354.95Z" fill="#000"/>
<path d="M352.14 367.4L356.84 367.4L354.49 371.6Z" fill="#000"/>
<path d="M356.42 367.4L361.12 367.4L358.77 371.6Z" fill="#000"/>
<path d="M356.42 384.05L361.12 384.05L358.77 388.25Z" fill="#000"/>
<rect x="410.8" y="236.8" width="75.9" height="30.8" fill="#fff" stroke="#444" stroke-width="1"/>
<path d="M414.6 245.1H431.5" stroke="#000" stroke-width="1"/>
<circle cx="423.05" cy="245.1" r="2.15" fill="#000"/>
<path d="M414.6 252.4H431.5" stroke="#999" stroke-width="1" stroke-dasharray="1.6,0.7"/>
<circle cx="423.05" cy="252.4" r="1.85" fill="#fff" stroke="#000" stroke-width="0.85"/>
<path d="M414.6 259.9H431.5" stroke="#000" stroke-width="1.1" stroke-dasharray="3.6,1.8"/>
<path d="M420.42 258.39L425.68 258.39L423.05 263.09Z" fill="#000"/>
<text transform="translate(435.8 247.4) scale(0.94 1)" font-size="6.4" fill="#111">MPL+MCP3-sFv</text>
<text transform="translate(435.8 254.7) scale(0.94 1)" font-size="6.4" fill="#111">MCP3-sFv alone</text>
<text transform="translate(435.8 262.2) scale(0.94 1)" font-size="6.4" fill="#111">Saline</text>
<path d="M32.3 446.5V598.2H248.8" fill="none" stroke="#222" stroke-width="1"/>
<path d="M29.8 598.2H32.3M29.8 567.86H32.3M29.8 537.52H32.3M29.8 507.18H32.3M29.8 476.84H32.3M29.8 446.5H32.3M32.3 598.2V600.5M75.6 598.2V600.5M118.9 598.2V600.5M162.2 598.2V600.5M205.5 598.2V600.5M248.8 598.2V600.5" stroke="#222" stroke-width="1"/>
<text transform="translate(26.8 600.8) scale(0.97 1)" text-anchor="end" font-size="7.2" fill="#111">0</text>
<text transform="translate(26.8 570.46) scale(0.97 1)" text-anchor="end" font-size="7.2" fill="#111">20</text>
<text transform="translate(26.8 540.12) scale(0.97 1)" text-anchor="end" font-size="7.2" fill="#111">40</text>
<text transform="translate(26.8 509.78) scale(0.97 1)" text-anchor="end" font-size="7.2" fill="#111">60</text>
<text transform="translate(26.8 479.44) scale(0.97 1)" text-anchor="end" font-size="7.2" fill="#111">80</text>
<text transform="translate(26.8 449.1) scale(0.97 1)" text-anchor="end" font-size="7.2" fill="#111">100</text>
<text transform="translate(32.3 610.5) scale(0.93 1)" text-anchor="middle" font-size="7.2" fill="#111">30</text>
<text transform="translate(75.6 610.5) scale(0.93 1)" text-anchor="middle" font-size="7.2" fill="#111">40</text>
<text transform="translate(118.9 610.5) scale(0.93 1)" text-anchor="middle" font-size="7.2" fill="#111">50</text>
<text transform="translate(162.2 610.5) scale(0.93 1)" text-anchor="middle" font-size="7.2" fill="#111">60</text>
<text transform="translate(205.5 610.5) scale(0.93 1)" text-anchor="middle" font-size="7.2" fill="#111">70</text>
<text transform="translate(248.8 610.5) scale(0.93 1)" text-anchor="middle" font-size="7.2" fill="#111">80</text>
<text x="140.55" y="624.6" text-anchor="middle" font-size="8.45" fill="#111">Days after tumor challenge</text>
<text transform="translate(7.7 522.35) rotate(-90)" text-anchor="middle" font-size="8.3" fill="#111">Overall survival rate (%)</text>
<text x="-0.5" y="435.9" font-size="11.8" font-weight="bold" fill="#000">E</text>
<path d="M32.3 446.5L75.6 446.5L75.6 463.34L84.26 463.34L84.26 480.18L88.59 480.18L88.59 497.02L97.25 497.02L97.25 513.85L105.91 513.85L105.91 530.85L114.57 530.85L114.57 547.68L118.9 547.68L118.9 581.36L144.88 581.36L144.88 598.2" fill="none" stroke="#000" stroke-width="1.0"/>
<path d="M32.3 446.5L49.62 446.5L49.62 463.34L58.28 463.34L58.28 497.02L88.59 497.02L88.59 513.85L105.91 513.85L105.91 547.68L136.22 547.68L136.22 564.52L144.88 564.52L144.88 581.36L244.47 581.36" fill="none" stroke="#999" stroke-width="1" stroke-dasharray="1.6,0.7"/>
<path d="M32.3 446.5L45.29 446.5L45.29 463.34L58.28 463.34L58.28 497.02L62.61 497.02L62.61 513.85L75.6 513.85L75.6 564.52L92.92 564.52L92.92 581.36L97.25 581.36L97.25 598.2" fill="none" stroke="#000" stroke-width="1.1" stroke-dasharray="4.0,1.3"/>
<circle cx="32.3" cy="446.5" r="2.15" fill="#000"/>
<circle cx="36.63" cy="446.5" r="2.15" fill="#000"/>
<circle cx="45.29" cy="446.5" r="2.15" fill="#000"/>
<circle cx="49.62" cy="446.5" r="2.15" fill="#000"/>
<circle cx="58.28" cy="446.5" r="2.15" fill="#000"/>
<circle cx="62.61" cy="446.5" r="2.15" fill="#000"/>
<circle cx="75.6" cy="446.5" r="2.15" fill="#000"/>
<circle cx="75.6" cy="463.34" r="2.15" fill="#000"/>
<circle cx="84.26" cy="463.34" r="2.15" fill="#000"/>
<circle cx="84.26" cy="480.18" r="2.15" fill="#000"/>
<circle cx="88.59" cy="480.18" r="2.15" fill="#000"/>
<circle cx="88.59" cy="497.02" r="2.15" fill="#000"/>
<circle cx="92.92" cy="497.02" r="2.15" fill="#000"/>
<circle cx="97.25" cy="497.02" r="2.15" fill="#000"/>
<circle cx="97.25" cy="513.85" r="2.15" fill="#000"/>
<circle cx="105.91" cy="513.85" r="2.15" fill="#000"/>
<circle cx="105.91" cy="530.85" r="2.15" fill="#000"/>
<circle cx="114.57" cy="530.85" r="2.15" fill="#000"/>
<circle cx="114.57" cy="547.68" r="2.15" fill="#000"/>
<circle cx="118.9" cy="547.68" r="2.15" fill="#000"/>
<circle cx="118.9" cy="581.36" r="2.15" fill="#000"/>
<circle cx="127.56" cy="581.36" r="2.15" fill="#000"/>
<circle cx="136.22" cy="581.36" r="2.15" fill="#000"/>
<circle cx="144.88" cy="581.36" r="2.15" fill="#000"/>
<circle cx="144.88" cy="598.2" r="2.15" fill="#000"/>
<circle cx="49.62" cy="446.5" r="1.85" fill="#fff" stroke="#000" stroke-width="0.85"/>
<circle cx="49.62" cy="463.34" r="1.85" fill="#fff" stroke="#000" stroke-width="0.85"/>
<circle cx="58.28" cy="463.34" r="1.85" fill="#fff" stroke="#000" stroke-width="0.85"/>
<circle cx="58.28" cy="497.02" r="1.85" fill="#fff" stroke="#000" stroke-width="0.85"/>
<circle cx="62.61" cy="497.02" r="1.85" fill="#fff" stroke="#000" stroke-width="0.85"/>
<circle cx="75.6" cy="497.02" r="1.85" fill="#fff" stroke="#000" stroke-width="0.85"/>
<circle cx="84.26" cy="497.02" r="1.85" fill="#fff" stroke="#000" stroke-width="0.85"/>
<circle cx="88.59" cy="497.02" r="1.85" fill="#fff" stroke="#000" stroke-width="0.85"/>
<circle cx="88.59" cy="513.85" r="1.85" fill="#fff" stroke="#000" stroke-width="0.85"/>
<circle cx="92.92" cy="513.85" r="1.85" fill="#fff" stroke="#000" stroke-width="0.85"/>
<circle cx="97.25" cy="513.85" r="1.85" fill="#fff" stroke="#000" stroke-width="0.85"/>
<circle cx="105.91" cy="513.85" r="1.85" fill="#fff" stroke="#000" stroke-width="0.85"/>
<circle cx="105.91" cy="547.68" r="1.85" fill="#fff" stroke="#000" stroke-width="0.85"/>
<circle cx="114.57" cy="547.68" r="1.85" fill="#fff" stroke="#000" stroke-width="0.85"/>
<circle cx="118.9" cy="547.68" r="1.85" fill="#fff" stroke="#000" stroke-width="0.85"/>
<circle cx="127.56" cy="547.68" r="1.85" fill="#fff" stroke="#000" stroke-width="0.85"/>
<circle cx="136.22" cy="547.68" r="1.85" fill="#fff" stroke="#000" stroke-width="0.85"/>
<circle cx="136.22" cy="564.52" r="1.85" fill="#fff" stroke="#000" stroke-width="0.85"/>
<circle cx="144.88" cy="564.52" r="1.85" fill="#fff" stroke="#000" stroke-width="0.85"/>
<circle cx="144.88" cy="581.36" r="1.85" fill="#fff" stroke="#000" stroke-width="0.85"/>
<circle cx="153.54" cy="581.36" r="1.85" fill="#fff" stroke="#000" stroke-width="0.85"/>
<circle cx="162.2" cy="581.36" r="1.85" fill="#fff" stroke="#000" stroke-width="0.85"/>
<circle cx="166.53" cy="581.36" r="1.85" fill="#fff" stroke="#000" stroke-width="0.85"/>
<circle cx="175.19" cy="581.36" r="1.85" fill="#fff" stroke="#000" stroke-width="0.85"/>
<circle cx="183.85" cy="581.36" r="1.85" fill="#fff" stroke="#000" stroke-width="0.85"/>
<circle cx="196.84" cy="581.36" r="1.85" fill="#fff" stroke="#000" stroke-width="0.85"/>
<circle cx="205.5" cy="581.36" r="1.85" fill="#fff" stroke="#000" stroke-width="0.85"/>
<circle cx="214.16" cy="581.36" r="1.85" fill="#fff" stroke="#000" stroke-width="0.85"/>
<circle cx="227.15" cy="581.36" r="1.85" fill="#fff" stroke="#000" stroke-width="0.85"/>
<circle cx="244.47" cy="581.36" r="1.85" fill="#fff" stroke="#000" stroke-width="0.85"/>
<path d="M42.94 461.99L47.64 461.99L45.29 466.19Z" fill="#000"/>
<circle cx="49.62" cy="463.34" r="2.15" fill="#000"/>
<circle cx="58.28" cy="463.34" r="2.15" fill="#000"/>
<circle cx="58.28" cy="497.02" r="2.15" fill="#000"/>
<circle cx="62.61" cy="497.02" r="2.15" fill="#000"/>
<path d="M60.26 512.5L64.96 512.5L62.61 516.7Z" fill="#000"/>
<path d="M73.25 512.5L77.95 512.5L75.6 516.7Z" fill="#000"/>
<path d="M73.25 563.17L77.95 563.17L75.6 567.37Z" fill="#000"/>
<path d="M81.91 563.17L86.61 563.17L84.26 567.37Z" fill="#000"/>
<path d="M86.24 563.17L90.94 563.17L88.59 567.37Z" fill="#000"/>
<path d="M90.57 563.17L95.27 563.17L92.92 567.37Z" fill="#000"/>
<path d="M90.57 580.01L95.27 580.01L92.92 584.21Z" fill="#000"/>
<path d="M94.9 580.01L99.6 580.01L97.25 584.21Z" fill="#000"/>
<path d="M94.9 596.85L99.6 596.85L97.25 601.05Z" fill="#000"/>
<rect x="149.2" y="444.8" width="78.9" height="30.4" fill="#fff" stroke="#444" stroke-width="1"/>
<path d="M153.7 452.1H170" stroke="#000" stroke-width="1"/>
<circle cx="161.85" cy="452.1" r="2.15" fill="#000"/>
<path d="M153.7 459.7H170" stroke="#999" stroke-width="1" stroke-dasharray="1.6,0.7"/>
<circle cx="161.85" cy="459.7" r="1.85" fill="#fff" stroke="#000" stroke-width="0.85"/>
<path d="M153.7 467.4H170" stroke="#000" stroke-width="1.1" stroke-dasharray="3.6,1.8"/>
<path d="M159.22 465.89L164.48 465.89L161.85 470.59Z" fill="#000"/>
<text transform="translate(174.8 454.4) scale(0.94 1)" font-size="6.4" fill="#111">M001+MCP3-sFv</text>
<text transform="translate(174.8 462) scale(0.94 1)" font-size="6.4" fill="#111">MCP3-sFv alone</text>
<text transform="translate(174.8 469.7) scale(0.94 1)" font-size="6.4" fill="#111">Saline</text>
<path d="M295 446.1V596H508.8" fill="none" stroke="#222" stroke-width="1"/>
<path d="M292.5 596H295M292.5 566.02H295M292.5 536.04H295M292.5 506.06H295M292.5 476.08H295M292.5 446.1H295M295 596V598.3M337.76 596V598.3M380.52 596V598.3M423.28 596V598.3M466.04 596V598.3M508.8 596V598.3" stroke="#222" stroke-width="1"/>
<text transform="translate(289.5 598.6) scale(0.97 1)" text-anchor="end" font-size="7.2" fill="#111">0</text>
<text transform="translate(289.5 568.62) scale(0.97 1)" text-anchor="end" font-size="7.2" fill="#111">20</text>
<text transform="translate(289.5 538.64) scale(0.97 1)" text-anchor="end" font-size="7.2" fill="#111">40</text>
<text transform="translate(289.5 508.66) scale(0.97 1)" text-anchor="end" font-size="7.2" fill="#111">60</text>
<text transform="translate(289.5 478.68) scale(0.97 1)" text-anchor="end" font-size="7.2" fill="#111">80</text>
<text transform="translate(289.5 448.7) scale(0.97 1)" text-anchor="end" font-size="7.2" fill="#111">100</text>
<text transform="translate(295 608.3) scale(0.93 1)" text-anchor="middle" font-size="7.2" fill="#111">30</text>
<text transform="translate(337.76 608.3) scale(0.93 1)" text-anchor="middle" font-size="7.2" fill="#111">40</text>
<text transform="translate(380.52 608.3) scale(0.93 1)" text-anchor="middle" font-size="7.2" fill="#111">50</text>
<text transform="translate(423.28 608.3) scale(0.93 1)" text-anchor="middle" font-size="7.2" fill="#111">60</text>
<text transform="translate(466.04 608.3) scale(0.93 1)" text-anchor="middle" font-size="7.2" fill="#111">70</text>
<text transform="translate(508.8 608.3) scale(0.93 1)" text-anchor="middle" font-size="7.2" fill="#111">80</text>
<text x="401.9" y="622.4" text-anchor="middle" font-size="8.3" fill="#111">Days after tumor challenge</text>
<text transform="translate(270.4 521.05) rotate(-90)" text-anchor="middle" font-size="8.3" fill="#111">Overall survival rate (%)</text>
<text x="261.6" y="435.9" font-size="11.8" font-weight="bold" fill="#000">F</text>
<path d="M295 446.1L307.83 446.1L307.83 462.74L337.76 462.74L337.76 479.38L346.31 479.38L346.31 512.66L350.59 512.66L350.59 529.44L359.14 529.44L359.14 546.08L367.69 546.08L367.69 562.72L380.52 562.72L380.52 596" fill="none" stroke="#000" stroke-width="1.0"/>
<path d="M295 446.1L312.1 446.1L312.1 462.74L320.66 462.74L320.66 496.02L350.59 496.02L350.59 512.66L367.69 512.66L367.69 546.08L397.62 546.08L397.62 562.72L406.18 562.72L406.18 579.36L504.52 579.36" fill="none" stroke="#999" stroke-width="1" stroke-dasharray="1.6,0.7"/>
<path d="M295 446.1L307.83 446.1L307.83 462.74L320.66 462.74L320.66 496.02L324.93 496.02L324.93 512.66L337.76 512.66L337.76 562.72L354.86 562.72L354.86 579.36L359.14 579.36L359.14 596" fill="none" stroke="#000" stroke-width="1.1" stroke-dasharray="4.0,1.3"/>
<circle cx="295" cy="446.1" r="2.15" fill="#000"/>
<circle cx="299.28" cy="446.1" r="2.15" fill="#000"/>
<circle cx="307.83" cy="446.1" r="2.15" fill="#000"/>
<circle cx="312.1" cy="446.1" r="2.15" fill="#000"/>
<circle cx="307.83" cy="462.74" r="2.15" fill="#000"/>
<circle cx="312.1" cy="462.74" r="2.15" fill="#000"/>
<circle cx="320.66" cy="462.74" r="2.15" fill="#000"/>
<circle cx="324.93" cy="462.74" r="2.15" fill="#000"/>
<circle cx="337.76" cy="462.74" r="2.15" fill="#000"/>
<circle cx="337.76" cy="479.38" r="2.15" fill="#000"/>
<circle cx="346.31" cy="479.38" r="2.15" fill="#000"/>
<circle cx="346.31" cy="512.66" r="2.15" fill="#000"/>
<circle cx="350.59" cy="512.66" r="2.15" fill="#000"/>
<circle cx="350.59" cy="529.44" r="2.15" fill="#000"/>
<circle cx="354.86" cy="529.44" r="2.15" fill="#000"/>
<circle cx="359.14" cy="529.44" r="2.15" fill="#000"/>
<circle cx="359.14" cy="546.08" r="2.15" fill="#000"/>
<circle cx="367.69" cy="546.08" r="2.15" fill="#000"/>
<circle cx="367.69" cy="562.72" r="2.15" fill="#000"/>
<circle cx="376.24" cy="562.72" r="2.15" fill="#000"/>
<circle cx="380.52" cy="562.72" r="2.15" fill="#000"/>
<circle cx="380.52" cy="596" r="2.15" fill="#000"/>
<circle cx="312.1" cy="446.1" r="1.85" fill="#fff" stroke="#000" stroke-width="0.85"/>
<circle cx="312.1" cy="462.74" r="1.85" fill="#fff" stroke="#000" stroke-width="0.85"/>
<circle cx="320.66" cy="462.74" r="1.85" fill="#fff" stroke="#000" stroke-width="0.85"/>
<circle cx="320.66" cy="496.02" r="1.85" fill="#fff" stroke="#000" stroke-width="0.85"/>
<circle cx="324.93" cy="496.02" r="1.85" fill="#fff" stroke="#000" stroke-width="0.85"/>
<circle cx="337.76" cy="496.02" r="1.85" fill="#fff" stroke="#000" stroke-width="0.85"/>
<circle cx="346.31" cy="496.02" r="1.85" fill="#fff" stroke="#000" stroke-width="0.85"/>
<circle cx="350.59" cy="496.02" r="1.85" fill="#fff" stroke="#000" stroke-width="0.85"/>
<circle cx="350.59" cy="512.66" r="1.85" fill="#fff" stroke="#000" stroke-width="0.85"/>
<circle cx="354.86" cy="512.66" r="1.85" fill="#fff" stroke="#000" stroke-width="0.85"/>
<circle cx="359.14" cy="512.66" r="1.85" fill="#fff" stroke="#000" stroke-width="0.85"/>
<circle cx="367.69" cy="512.66" r="1.85" fill="#fff" stroke="#000" stroke-width="0.85"/>
<circle cx="367.69" cy="546.08" r="1.85" fill="#fff" stroke="#000" stroke-width="0.85"/>
<circle cx="376.24" cy="546.08" r="1.85" fill="#fff" stroke="#000" stroke-width="0.85"/>
<circle cx="380.52" cy="546.08" r="1.85" fill="#fff" stroke="#000" stroke-width="0.85"/>
<circle cx="389.07" cy="546.08" r="1.85" fill="#fff" stroke="#000" stroke-width="0.85"/>
<circle cx="397.62" cy="546.08" r="1.85" fill="#fff" stroke="#000" stroke-width="0.85"/>
<circle cx="397.62" cy="562.72" r="1.85" fill="#fff" stroke="#000" stroke-width="0.85"/>
<circle cx="406.18" cy="562.72" r="1.85" fill="#fff" stroke="#000" stroke-width="0.85"/>
<circle cx="406.18" cy="579.36" r="1.85" fill="#fff" stroke="#000" stroke-width="0.85"/>
<circle cx="414.73" cy="579.36" r="1.85" fill="#fff" stroke="#000" stroke-width="0.85"/>
<circle cx="423.28" cy="579.36" r="1.85" fill="#fff" stroke="#000" stroke-width="0.85"/>
<circle cx="427.56" cy="579.36" r="1.85" fill="#fff" stroke="#000" stroke-width="0.85"/>
<circle cx="436.11" cy="579.36" r="1.85" fill="#fff" stroke="#000" stroke-width="0.85"/>
<circle cx="444.66" cy="579.36" r="1.85" fill="#fff" stroke="#000" stroke-width="0.85"/>
<circle cx="457.49" cy="579.36" r="1.85" fill="#fff" stroke="#000" stroke-width="0.85"/>
<circle cx="466.04" cy="579.36" r="1.85" fill="#fff" stroke="#000" stroke-width="0.85"/>
<circle cx="474.59" cy="579.36" r="1.85" fill="#fff" stroke="#000" stroke-width="0.85"/>
<circle cx="487.42" cy="579.36" r="1.85" fill="#fff" stroke="#000" stroke-width="0.85"/>
<circle cx="504.52" cy="579.36" r="1.85" fill="#fff" stroke="#000" stroke-width="0.85"/>
<path d="M305.48 461.39L310.18 461.39L307.83 465.59Z" fill="#000"/>
<circle cx="312.1" cy="462.74" r="2.15" fill="#000"/>
<circle cx="320.66" cy="462.74" r="2.15" fill="#000"/>
<circle cx="320.66" cy="496.02" r="2.15" fill="#000"/>
<circle cx="324.93" cy="496.02" r="2.15" fill="#000"/>
<path d="M322.58 511.31L327.28 511.31L324.93 515.51Z" fill="#000"/>
<path d="M335.41 511.31L340.11 511.31L337.76 515.51Z" fill="#000"/>
<path d="M335.41 561.37L340.11 561.37L337.76 565.57Z" fill="#000"/>
<path d="M343.96 561.37L348.66 561.37L346.31 565.57Z" fill="#000"/>
<path d="M348.24 561.37L352.94 561.37L350.59 565.57Z" fill="#000"/>
<path d="M352.51 561.37L357.21 561.37L354.86 565.57Z" fill="#000"/>
<path d="M352.51 578.01L357.21 578.01L354.86 582.21Z" fill="#000"/>
<path d="M356.79 578.01L361.49 578.01L359.14 582.21Z" fill="#000"/>
<path d="M356.79 594.65L361.49 594.65L359.14 598.85Z" fill="#000"/>
<rect x="404.8" y="446.2" width="75.6" height="30" fill="#fff" stroke="#444" stroke-width="1"/>
<path d="M408.7 453.8H425" stroke="#000" stroke-width="1"/>
<circle cx="416.85" cy="453.8" r="2.15" fill="#000"/>
<path d="M408.7 461.3H425" stroke="#999" stroke-width="1" stroke-dasharray="1.6,0.7"/>
<circle cx="416.85" cy="461.3" r="1.85" fill="#fff" stroke="#000" stroke-width="0.85"/>
<path d="M408.7 468.8H425" stroke="#000" stroke-width="1.1" stroke-dasharray="3.6,1.8"/>
<path d="M414.22 467.29L419.48 467.29L416.85 471.99Z" fill="#000"/>
<text transform="translate(429.8 456.1) scale(0.94 1)" font-size="6.4" fill="#111">M003+MCP3-sFv</text>
<text transform="translate(429.8 463.6) scale(0.94 1)" font-size="6.4" fill="#111">MCP3-sFv alone</text>
<text transform="translate(429.8 471.1) scale(0.94 1)" font-size="6.4" fill="#111">Saline</text>
</svg></div>
</body></html>
